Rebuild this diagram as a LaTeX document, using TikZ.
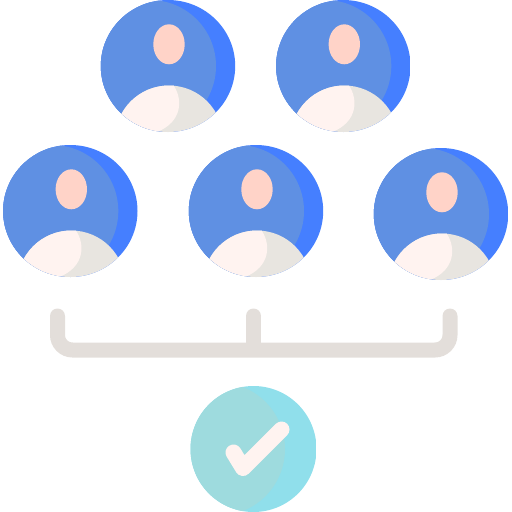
\documentclass[tikz,border=0pt]{standalone}
\definecolor{bright blue}{HTML}{457FFF}
\definecolor{soft blue}{HTML}{5F90E3}
\definecolor{skin}{HTML}{FFD3C8}
\definecolor{shirt}{HTML}{FFF3F0}
\definecolor{shirt shade}{HTML}{E8E5E0}
\definecolor{bright teal}{HTML}{90DFEB}
\definecolor{soft teal}{HTML}{9EDBDE}
\definecolor{bracket gray}{HTML}{E3DEDA}
\tikzstyle{bracket}=[draw=bracket gray, line width=15pt, line cap=round]
\tikzstyle{tick}=[draw=shirt, line width=16pt, line cap=round, line join=round]

\begin{document}
\begin{tikzpicture}[x=1pt,y=-1pt]
    \useasboundingbox (0,0) rectangle (512,512);

    % People
    \foreach \cx/\cy in {168/66,343.3/66,70.3/211,256/211,441/214} {
      \begin{scope}[shift={(\cx,\cy)}]
        \begin{scope}
          \clip (0,0) ellipse[x radius=67.2, y radius=66];
          \fill[bright blue] (-68,-68) rectangle (68,68);
          \fill[soft blue] (-18,0) circle[radius=66];
          \fill[soft blue] (-68,-68) rectangle (-18,68);
          % Shoulders
          \clip (1,73.5) circle[radius=54];
          \fill[shirt shade] (-68,0) rectangle (68,68);
          \fill[shirt] (-68,0) -- (6,0) -- (6,20)
            .. controls (15,34) and (14,56) .. (-11,66) -- (-68,68) -- cycle;
        \end{scope}
        % Head
        \fill[skin] (1,-21.7) ellipse[x radius=15.7, y radius=20];
      \end{scope}
    }

    % Bracket
    \coordinate (left end) at (57.5,316);
    \coordinate (right end) at (450,316);
    \coordinate (mid end) at (253.5,316);
    \coordinate (mid foot) at (253.5,350);
    \draw[bracket,rounded corners=15pt] (left end) |- (mid foot) -| (right end);
    \draw[bracket,line cap=butt] (mid end) -- (mid foot);
    \fill[bracket gray] (mid end) circle[radius=7.5];

    % Result
    \begin{scope}
      \clip (253.5,449) circle[radius=63];
      \fill[bright teal] (190,385) rectangle (317,513);
      \fill[soft teal] (218.4,449) circle[radius=66.6];
    \end{scope}
    \coordinate (check a) at (233.5,452.5);
    \coordinate (check b) at (243,468);
    \coordinate (check c) at (281.5,429.5);
    \draw[tick] (check a) -- (check b) -- (check c);
\end{tikzpicture}
\end{document}
